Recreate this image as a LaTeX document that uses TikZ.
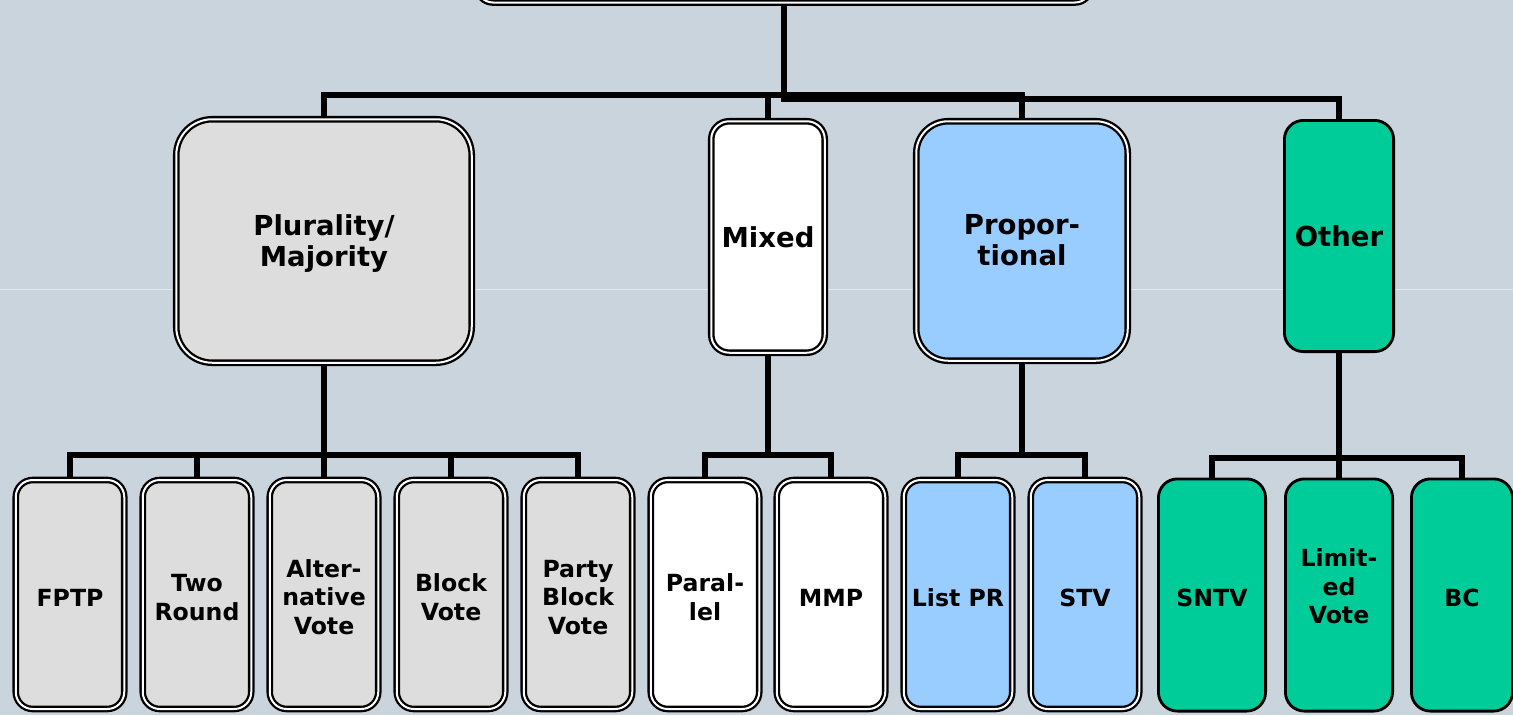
\documentclass[tikz,border=0pt]{standalone}
\usepackage{fontspec}
\setmainfont{DejaVu Sans}
\definecolor{bgc}{HTML}{CAD4DD}
\definecolor{grayf}{HTML}{DDDDDD}
\definecolor{bluef}{HTML}{99CCFF}
\definecolor{greenf}{HTML}{00CC99}
\tikzset{
  conn/.style={line width=6pt, black},
  dbox/.style={draw=black, line width=2.3pt, double=white, double distance=2pt,
     outer sep=3.3pt, inner sep=0pt, align=center, font=\bfseries\fontsize{23.6}{28.5}\selectfont},
  sbox/.style={draw=black, line width=2.8pt, outer sep=1.4pt, inner sep=0pt,
     align=center, font=\bfseries\fontsize{23.6}{28.5}\selectfont},
  leaf/.style={minimum width=108.5pt, minimum height=229pt, rounded corners=17pt},
  oneln/.style={text height=23.5pt},
  twoln/.style={text height=51.5pt},
  threeln/.style={text height=79.5pt},
  bigfont/.style={font=\bfseries\fontsize{27.5}{31}\selectfont},
}
\begin{document}
\begin{tikzpicture}[x=1pt,y=-1pt]
\clip (0,0) rectangle (1513,715);
\fill[bgc] (0,0) rectangle (1513,715);
\draw[white, opacity=0.5, line width=0.8pt] (0,289) -- (1513,289);
% bus coordinates
\coordinate (bus1) at (0,95);
\coordinate (bus2) at (0,98.5);
\coordinate (busA) at (0,455);
\coordinate (busB) at (0,455);
\coordinate (busC) at (0,455);
\coordinate (busD) at (0,458);
% top box
\node[dbox, fill=white, minimum width=614pt, minimum height=103pt, rounded corners=16pt] (top) at (784,-49) {};
% level 1
\node[dbox, bigfont, fill=grayf, minimum width=295.5pt, minimum height=243.5pt, rounded corners=36pt, text depth=-2pt] (pm) at (324,241) {Plurality/\\Majority};
\node[dbox, bigfont, fill=white, minimum width=113.5pt, minimum height=231.5pt, rounded corners=18pt] (mx) at (768,237) {Mixed};
\node[dbox, bigfont, fill=bluef, minimum width=211.5pt, minimum height=239.5pt, rounded corners=32pt, text depth=2pt] (pr) at (1022,241) {Propor-\\tional};
\node[sbox, bigfont, fill=greenf, minimum width=109.2pt, minimum height=231.2pt, rounded corners=19pt] (ot) at (1339,236) {Other};
% level 2
\node[dbox, leaf, oneln, fill=grayf] (fptp) at (70,594.5) {FPTP};
\node[dbox, leaf, twoln, fill=grayf] (tr) at (197,594.5) {Two\\Round};
\node[dbox, leaf, threeln, fill=grayf] (av) at (324,594.5) {Alter-\\native\\Vote};
\node[dbox, leaf, twoln, fill=grayf] (bv) at (451,594.5) {Block\\Vote};
\node[dbox, leaf, threeln, fill=grayf] (pbv) at (578,594.5) {Party\\Block\\Vote};
\node[dbox, leaf, twoln, fill=white] (par) at (705,594.5) {Paral-\\lel};
\node[dbox, leaf, oneln, fill=white] (mmp) at (831,594.5) {MMP};
\node[dbox, leaf, oneln, fill=bluef] (lpr) at (958,594.5) {List PR};
\node[dbox, leaf, oneln, fill=bluef] (stv) at (1085,594.5) {STV};
\node[sbox, leaf, oneln, fill=greenf, minimum width=107.2pt, minimum height=232.2pt, rounded corners=19pt] (sntv) at (1212,595) {SNTV};
\node[sbox, leaf, fill=greenf, minimum width=107.2pt, minimum height=232.2pt, rounded corners=19pt, text height=73.5pt, text depth=16pt] (lv) at (1339,595) {Limit-\\ed\\Vote};
\node[sbox, leaf, oneln, fill=greenf, minimum width=101.2pt, minimum height=232.2pt, rounded corners=19pt] (bc) at (1462,595) {BC};
% level 1 connectors
\draw[conn] (pm.north) |- (bus1 -| pr.north) -- (pr.north);
\draw[conn] (mx.north) -- (mx.north |- bus1);
\draw[conn] (top.south) |- (bus2 -| ot.north) -- (ot.north);
% level 2 connectors
\draw[conn] (pm.south) -- (pm.south |- busA);
\draw[conn] (fptp.north) |- (busA -| pbv.north) -- (pbv.north);
\draw[conn] (tr.north) -- (tr.north |- busA);
\draw[conn] (av.north) -- (av.north |- busA);
\draw[conn] (bv.north) -- (bv.north |- busA);
\draw[conn] (mx.south) -- (mx.south |- busB);
\draw[conn] (par.north) |- (busB -| mmp.north) -- (mmp.north);
\draw[conn] (pr.south) -- (pr.south |- busC);
\draw[conn] (lpr.north) |- (busC -| stv.north) -- (stv.north);
\draw[conn] (ot.south) -- (ot.south |- busD);
\draw[conn] (sntv.north) |- (busD -| bc.north) -- (bc.north);
\draw[conn] (lv.north) -- (lv.north |- busD);
\end{tikzpicture}
\end{document}
